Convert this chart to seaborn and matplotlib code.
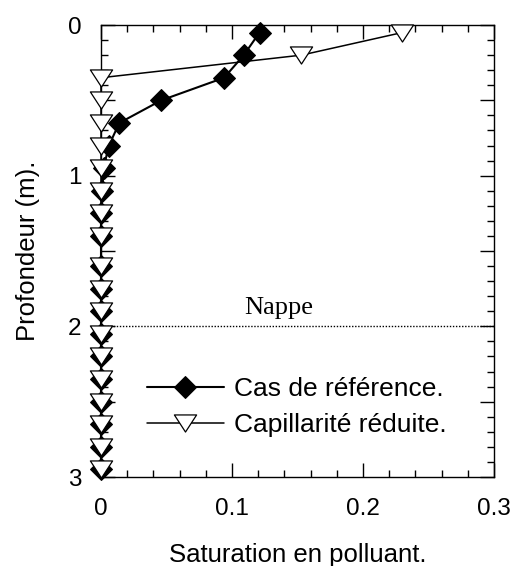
import matplotlib
matplotlib.use("Agg")
import matplotlib.pyplot as plt
import seaborn as sns
import pandas as pd
from matplotlib.ticker import MultipleLocator, FuncFormatter
from matplotlib.path import Path

# ---- data ----
depth_m = [0.05, 0.20, 0.35, 0.50, 0.65, 0.80, 0.95, 1.10, 1.25, 1.40,
           1.60, 1.75, 1.90, 2.05, 2.20, 2.35, 2.50, 2.65, 2.80, 2.95]
sat_reference = [0.121, 0.109, 0.094, 0.046, 0.014, 0.006, 0.002, 0.001, 0.0, 0.0,
                 0.0, 0.0, 0.0, 0.0, 0.0, 0.0, 0.0, 0.0, 0.0, 0.0]
sat_capillarity = [0.230, 0.153, 0.0, 0.0, 0.0, 0.0, 0.0, 0.0, 0.0, 0.0,
                   0.0, 0.0, 0.0, 0.0, 0.0, 0.0, 0.0, 0.0, 0.0, 0.0]
series_labels = ["Cas de référence.", "Capillarité réduite."]
x_ticks = [0, 0.1, 0.2, 0.3]
y_ticks = [0, 1, 2, 3]
water_table_depth = 2.0
water_table_label = "Nappe"
x_label = "Saturation en polluant."
y_label = "Profondeur (m)."

sns.set_theme(style="white")
plt.rcParams['font.family'] = ['Liberation Sans', 'DejaVu Sans']
plt.rcParams.update({"text.color": "black", "axes.labelcolor": "black",
                     "xtick.color": "black", "ytick.color": "black"})

fig = plt.figure(figsize=(5.14, 5.66), dpi=100)
ax = fig.add_axes([101/514, 1-477/566, (494-101)/514, (477-25)/566])

df_ref = pd.DataFrame({"sat": sat_reference, "depth": depth_m})
df_cap = pd.DataFrame({"sat": sat_capillarity, "depth": depth_m})

tri_down = Path([(-0.65, 0.5), (0.65, 0.5), (0.0, -0.5), (-0.65, 0.5)],
                [Path.MOVETO, Path.LINETO, Path.LINETO, Path.CLOSEPOLY])

sns.lineplot(data=df_ref, x="sat", y="depth", sort=False, estimator=None,
             ax=ax, color="black", lw=1.5, marker="D", markersize=11,
             markerfacecolor="black", markeredgecolor="black",
             label=series_labels[0], clip_on=False, zorder=3)
sns.lineplot(data=df_cap, x="sat", y="depth", sort=False, estimator=None,
             ax=ax, color="black", lw=1.1, marker=tri_down, markersize=16,
             markerfacecolor="white", markeredgecolor="black", markeredgewidth=0.9,
             label=series_labels[1], clip_on=False, zorder=4)

ax.axhline(water_table_depth, color="black", lw=1.0, ls=(0, (1, 1.2)), zorder=2)
ax.text(0.1355, 1.915, water_table_label, family=["Liberation Serif"],
        fontsize=19, ha="center", va="baseline", color="black")

ax.set_xlim(0, 0.3)
ax.set_ylim(3, 0)
ax.set_xticks(x_ticks)
ax.xaxis.set_minor_locator(MultipleLocator(0.02))
ax.yaxis.set_major_locator(MultipleLocator(0.5))
ax.yaxis.set_minor_locator(MultipleLocator(0.1))
ax.yaxis.set_major_formatter(FuncFormatter(
    lambda v, p: f"{int(round(v))}" if abs(v - round(v)) < 1e-6 and round(v) in y_ticks else ""))
ax.xaxis.set_major_formatter(FuncFormatter(lambda v, p: f"{v:g}"))

ax.tick_params(which="both", direction="in", top=True, right=True,
               bottom=True, left=True, color="black", width=1.0,
               labelcolor="black")
ax.tick_params(which="major", length=10, labelsize=17.5)
ax.tick_params(axis="x", which="major", pad=15)
ax.tick_params(axis="y", which="major", pad=14)
ax.tick_params(which="minor", length=5)

for s in ax.spines.values():
    s.set_color("black")
    s.set_linewidth(1.0)

ax.set_xlabel(x_label, fontsize=18.5, labelpad=17, color="black")
ax.set_ylabel(y_label, fontsize=18.5, labelpad=20, color="black")

leg = ax.legend(loc="center left", bbox_to_anchor=(0.117, 0.155), frameon=False,
                fontsize=19, handlelength=2.9, handletextpad=0.4,
                labelspacing=0.45, borderpad=0, borderaxespad=0)
for t in leg.get_texts():
    t.set_color("black")

fig.savefig("out.png", dpi=100)
